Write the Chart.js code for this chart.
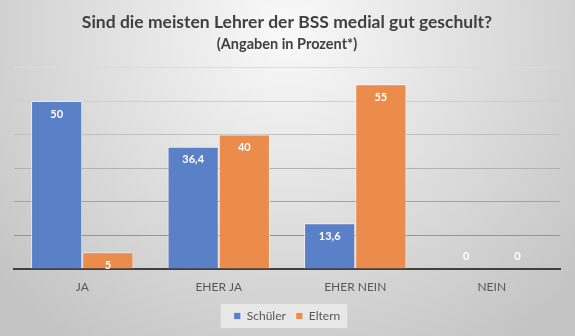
<!DOCTYPE html>
<html>
<head>
<meta charset="utf-8">
<script src="https://cdn.jsdelivr.net/npm/chart.js@4"></script>
<style>
  html, body { margin: 0; padding: 0; }
  #wrap { width: 575px; height: 336px; position: relative; }
</style>
</head>
<body>
<div id="wrap"><canvas id="chart" width="575" height="336"></canvas></div>
<script>
  const categories = ["JA", "EHER JA", "EHER NEIN", "NEIN"];
  const schueler = [50, 36.4, 13.6, 0];
  const eltern = [5, 40, 55, 0];
  const seriesNames = ["Schüler", "Eltern"];
  const yMax = 60;
  const yStep = 10;

  const FONT = "Lato, 'Open Sans', sans-serif";

  // background gradient + light legend box
  const bgPlugin = {
    id: 'bg',
    beforeDraw(chart) {
      const c = chart.ctx;
      const w = chart.width, h = chart.height;
      c.save();
      const g = c.createRadialGradient(w / 2, 30, 10, w / 2, 30, 380);
      g.addColorStop(0, '#f8f8f8');
      g.addColorStop(1, '#c4c4c4');
      c.fillStyle = g;
      c.fillRect(0, 0, w, h);
      const lg = chart.legend;
      if (lg && lg.legendHitBoxes && lg.legendHitBoxes.length) {
        const boxes = lg.legendHitBoxes;
        const x0 = boxes[0].left - 13;
        const last = boxes[boxes.length - 1];
        const x1 = last.left + last.width + 7;
        const cy = boxes[0].top + boxes[0].height / 2;
        c.fillStyle = 'rgba(235,235,235,0.85)';
        c.fillRect(x0, cy - 12, x1 - x0, 24);
      }
      c.restore();
    }
  };

  // value labels inside the top of each bar
  const labelPlugin = {
    id: 'valueLabels',
    afterDatasetsDraw(chart) {
      const c = chart.ctx;
      const base = chart.scales.y.getPixelForValue(0);
      c.save();
      c.font = "bold 11px " + FONT;
      c.fillStyle = '#ffffff';
      c.textAlign = 'center';
      c.textBaseline = 'middle';
      chart.data.datasets.forEach((ds, i) => {
        chart.getDatasetMeta(i).data.forEach((bar, j) => {
          const v = ds.data[j];
          const y = v === 0 ? base - 13 : bar.y + 13;
          c.fillText(String(v).replace('.', ','), bar.x, y);
        });
      });
      c.restore();
    }
  };

  function gridColor(ctx) {
    const v = ctx.tick ? ctx.tick.value : 0;
    const t = v / yMax; // 0 bottom .. 1 top
    const shade = Math.round(135 + t * 85);
    return `rgb(${shade},${shade},${shade})`;
  }

  new Chart(document.getElementById('chart'), {
    type: 'bar',
    data: {
      labels: categories,
      datasets: [
        {
          label: seriesNames[0],
          data: schueler,
          backgroundColor: '#5a80c8',
          borderColor: 'rgba(255,255,255,0.55)',
          borderWidth: 1
        },
        {
          label: seriesNames[1],
          data: eltern,
          backgroundColor: '#eb8c4c',
          borderColor: 'rgba(255,255,255,0.55)',
          borderWidth: 1
        }
      ]
    },
    options: {
      responsive: false,
      animation: false,
      layout: { padding: { left: 14, right: 15, top: 0, bottom: 4 } },
      categoryPercentage: 0.75,
      barPercentage: 1.0,
      scales: {
        x: {
          grid: { display: false, drawTicks: false },
          border: { display: true, color: '#404040', width: 2 },
          ticks: { padding: 11, color: '#595959', font: { family: FONT, size: 12 } },
          afterFit(scale) { scale.height = 31; }
        },
        y: {
          min: 0,
          max: yMax,
          ticks: { display: false, stepSize: yStep },
          border: { display: false },
          grid: { color: gridColor, drawTicks: false, lineWidth: 1 },
          afterFit(scale) { scale.width = 0; }
        }
      },
      plugins: {
        title: {
          display: true,
          text: 'Sind die meisten Lehrer der BSS medial gut geschult?',
          color: '#404040',
          font: { family: FONT, size: 17.5, weight: 'bold' },
          padding: { top: 12, bottom: 2.5 }
        },
        subtitle: {
          display: true,
          text: '(Angaben in Prozent*)',
          color: '#404040',
          font: { family: FONT, size: 14.5, weight: 'bold' },
          padding: { top: 0, bottom: 14.5 }
        },
        legend: {
          position: 'bottom',
          labels: {
            boxWidth: 7,
            boxHeight: 7,
            padding: 10,
            color: '#595959',
            font: { family: FONT, size: 12 }
          }
        },
        tooltip: { enabled: false }
      }
    },
    plugins: [bgPlugin, labelPlugin]
  });
</script>
</body>
</html>
